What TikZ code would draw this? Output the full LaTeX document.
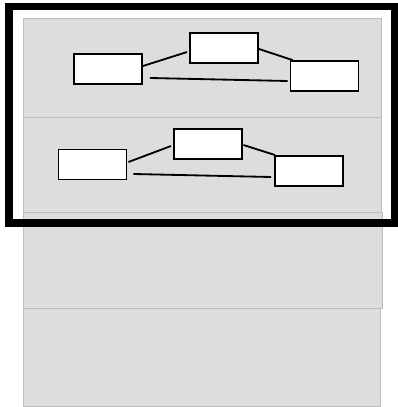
\documentclass[tikz,border=0pt]{standalone}
\usetikzlibrary{calc}
\definecolor{panelgray}{RGB}{221,221,221}
\definecolor{paneledge}{RGB}{190,190,190}
\tikzset{
    panel/.style={fill=panelgray, draw=paneledge, line width=0.7pt},
    box/.style={draw, fill=white, line width=1.35pt, inner sep=0pt, minimum width=1.7cm, minimum height=0.75cm},
    link/.style={line width=1.3pt}
}
\begin{document}
\begin{tikzpicture}[x=0.025cm, y=-0.025cm]
    \useasboundingbox (0,0) rectangle (398,407);
    % four stacked panels
    \draw[panel] (23,18) rectangle (381,117);
    \draw[panel] (23,117) rectangle (381,212);
    \draw[panel] (23,212) rectangle (382,308);
    \draw[panel] (23,308) rectangle (380,406);
    % first panel
    \node[box] (a1) at (108,69) {};
    \node[box] (b1) at (224,48) {};
    \node[box] (c1) at (324.5,76) {};
    \draw[link] ($(a1.east)+(0,-3)$) -- ($(b1.west)+(-2,4)$);
    \draw[link] ($(b1.east)+(0,1)$) -- ($(c1.north west)+(3,0)$);
    \draw[link] ($(a1.east)+(7,9)$) -- ($(c1.west)+(-2,5)$);
    % second panel
    \node[box] (a2) at (92.5,164.5) {};
    \node[box] (b2) at (208,144) {};
    \node[box] (c2) at (309,171) {};
    \draw[link] ($(a2.east)+(1,-2.5)$) -- ($(b2.west)+(-2,2)$);
    \draw[link] ($(b2.east)+(0.5,1)$) -- ($(c2.north west)+(1,0)$);
    \draw[link] ($(a2.east)+(6,9.5)$) -- ($(c2.west)+(-3,6)$);
    % heavy frame round the top two panels
    \draw[line width=5pt] (9,6.7) rectangle (395,223);
\end{tikzpicture}
\end{document}
